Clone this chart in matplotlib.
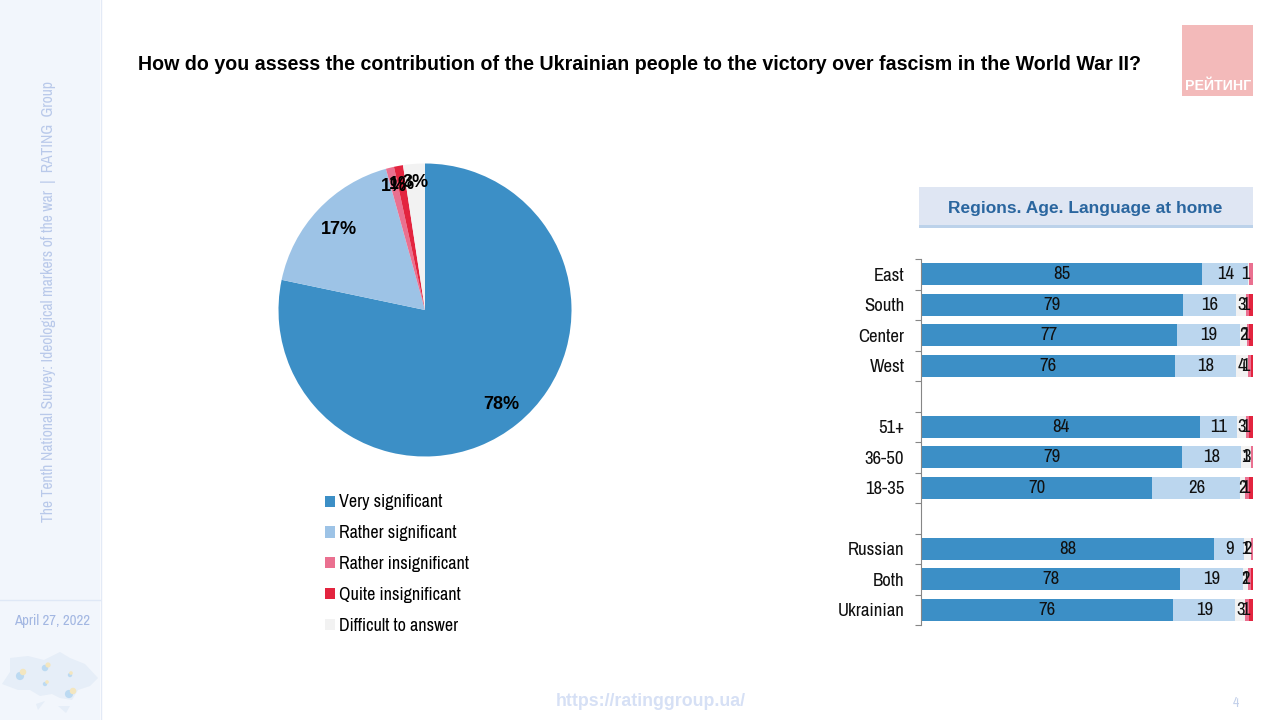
import matplotlib
matplotlib.use('Agg')
import matplotlib.pyplot as plt
from matplotlib.patches import Rectangle, Polygon

NARROW = ['Archivo Narrow', 'Liberation Sans', 'DejaVu Sans']
BOLD = ['Liberation Sans', 'DejaVu Sans']   # la narrow no trae negrita
plt.rcParams['font.family'] = NARROW

# datos del pastel
pie_labels = ['Very significant', 'Rather significant', 'Rather insignificant', 'Quite insignificant', 'Difficult to answer']
pie_values = [78.3, 17.4, 0.9, 1.0, 2.4]
pie_txt = ['78%', '17%', '1%', '1%', '3%']
pie_colors = ['#3c8fc6', '#9dc3e6', '#ea7090', '#e3243f', '#f2f2f2']

# datos de las barras, None = fila vacia
categories = ['East', 'South', 'Center', 'West', '', '51+', '36-50', '18-35', '', 'Russian', 'Both', 'Ukrainian']
very = [84.7, 79.0, 77.2, 76.6, None, 84.1, 78.7, 69.7, None, 88.4, 78.1, 76.0]
rather = [13.9, 16.0, 19.0, 18.4, None, 11.1, 17.8, 26.5, None, 9.0, 19.0, 18.7]
difficult = [0.3, 3.0, 2.1, 3.6, None, 2.7, 3.0, 1.5, None, 2.1, 1.5, 3.0]
insignificant = [1.2, 0.9, 0.6, 0.9, None, 0.9, 0.6, 1.2, None, 0.6, 0.9, 1.2]
quite = [0.0, 1.2, 1.2, 0.6, None, 1.2, 0.0, 1.2, None, 0.0, 0.6, 1.2]

very_txt = ['85', '79', '77', '76', '', '84', '79', '70', '', '88', '78', '76']
rather_txt = ['14', '16', '19', '18', '', '11', '18', '26', '', '9', '19', '19']
difficult_txt = ['', '3', '2', '4', '', '3', '3', '2', '', '2', '2', '3']
small_txt = ['1', '1', '1', '1', '', '1', '1', '1', '', '1', '1', '1']
bar_colors = ['#3c8fc6', '#bbd6ee', '#f2f2f2', '#ea7090', '#e3243f']

W, H = 1280, 720


def caja(x0, y0, x1, y1):   # convierte pixeles a fraccion de figura
    return [x0 / W, 1 - y1 / H, (x1 - x0) / W, (y1 - y0) / H]


fig = plt.figure(figsize=(12.8, 7.2), dpi=100)

# capa de fondo en pixeles
bg = fig.add_axes([0, 0, 1, 1])
bg.set_xlim(0, W)
bg.set_ylim(H, 0)
bg.axis('off')

bg.add_patch(Rectangle((0, 0), 100, H, color='#f2f6fc', lw=0))
bg.plot([100.5, 100.5], [0, H], color='#e3eaf6', lw=1)
bg.plot([0, 100], [600, 600], color='#dfe8f6', lw=1)
bg.text(49, 302, 'The Tenth National Survey: Ideological markers of the war  |  RATING  Group', rotation=90,
        ha='center', va='center', fontsize=11.25, color='#b9c9ea')
bg.text(52, 621, 'April 27, 2022', ha='center', va='center', fontsize=10.7, color='#a3b7e2')

# mapa decorativo
ucrania = [(2, 684), (10, 672), (10, 658), (28, 656), (44, 660), (60, 652), (70, 658), (85, 664), (98, 678),
           (90, 686), (78, 690), (72, 700), (60, 698), (52, 694), (40, 696), (30, 690), (18, 690)]
bg.add_patch(Polygon(ucrania, closed=True, color='#e6eef8', lw=0))
bg.add_patch(Polygon([(36, 704), (45, 701), (38, 710)], closed=True, color='#e6eef8', lw=0))
bg.add_patch(Polygon([(58, 706), (70, 706), (66, 713)], closed=True, color='#e6eef8', lw=0))
bg.scatter([20, 45, 69, 45, 70], [676, 668, 694, 684, 675], s=[35, 22, 35, 10, 10], color='#bcdaf2', lw=0)
bg.scatter([23, 48, 73, 47, 71], [672, 665, 691, 682, 673], s=[22, 14, 22, 7, 7], color='#f3e6c0', lw=0)

bg.text(138, 64, 'How do you assess the contribution of the Ukrainian people to the victory over fascism in the World War II?',
        ha='left', va='center', fontsize=14.15, fontweight='bold', color='black', family=BOLD)

# logo
bg.add_patch(Rectangle((1182, 25), 71, 71, color='#f3baba', lw=0))
bg.text(1218, 86, 'РЕЙТИНГ', ha='center', va='center', fontsize=10.2, fontweight='bold', color='white', family=BOLD)

# recuadro de subtitulo con su sombra
bg.add_patch(Rectangle((919, 190), 334, 37.5, color='#bcd2ea', lw=0))
bg.add_patch(Rectangle((919, 187), 334, 38, color='#dfe6f3', lw=0))
bg.text(1085.5, 208, 'Regions. Age. Language at home', ha='center', va='center', fontsize=12.5, fontweight='bold',
        color='#2a669f', family=BOLD)

bg.text(651, 701, 'https://ratinggroup.ua/', ha='center', va='center', fontsize=12.8, fontweight='bold', color='#d6e0f5', family=BOLD)
bg.text(1236, 703, '4', ha='center', va='center', fontsize=10, color='#c3d0ea')

# pastel
ax_pie = fig.add_axes(caja(278.5, 163.5, 571.5, 456.5))
wedges, texts, autotexts = ax_pie.pie(pie_values, colors=pie_colors, startangle=90, counterclock=False, radius=1,
                                      autopct='%d%%', pctdistance=0.83,
                                      textprops={'fontsize': 13, 'fontweight': 'bold', 'color': 'black', 'family': BOLD})
ax_pie.set_xlim(-1, 1)
ax_pie.set_ylim(-1, 1)
for t, txt in zip(autotexts, pie_txt):
    t.set_text(txt)
for t in autotexts[2:]:
    x, y = t.get_position()
    t.set_position((x * 1.05, y * 1.05))
x, y = autotexts[1].get_position()
autotexts[1].set_position((x + 0.02, y - 0.02))

fig.legend(wedges, pie_labels, loc='upper left', bbox_to_anchor=(325 / W, 1 - 494.5 / H), frameon=False,
           fontsize=13, handlelength=0.58, handleheight=0.58, handletextpad=0.22, labelspacing=0.82,
           borderpad=0, borderaxespad=0)

# barras apiladas
ax = fig.add_axes(caja(921, 259, 1253, 625))
filas = [i for i in range(len(categories)) if very[i] is not None]
izq = [0.0] * len(filas)
pos = [i + 0.5 for i in filas]
for serie, color in zip([very, rather, difficult, insignificant, quite], bar_colors):
    vals = [serie[i] for i in filas]
    ax.barh(pos, vals, left=izq, height=0.72, color=color, lw=0)
    izq = [a + b for a, b in zip(izq, vals)]

for i in filas:
    ax.text(very[i] / 2, i + 0.5, very_txt[i], ha='center', va='center', fontsize=13.5, color='#111111')
    ax.text(very[i] + rather[i] / 2, i + 0.5, rather_txt[i], ha='center', va='center', fontsize=13.5, color='#111111')
    ax.text(very[i] + rather[i] + difficult[i] / 2, i + 0.5, difficult_txt[i], ha='center', va='center', fontsize=13.5, color='#111111')
    ax.text(97.7, i + 0.5, small_txt[i], ha='center', va='center', fontsize=13.5, color='#111111')

ax.set_xlim(0, 100)
ax.set_ylim(len(categories), 0)
ax.set_xticks([])
ax.set_yticks([i + 0.5 for i in range(len(categories))])
ax.set_yticklabels(categories, fontsize=13.5, color='#111111')
ax.set_yticks(range(len(categories) + 1), minor=True)
ax.tick_params(axis='y', which='major', length=0, pad=12)
ax.tick_params(axis='y', which='minor', length=4.5, width=0.8, color='#868686')
for lado in ['top', 'right', 'bottom']:
    ax.spines[lado].set_visible(False)
ax.spines['left'].set_color('#868686')
ax.spines['left'].set_linewidth(0.8)
ax.patch.set_alpha(0)

plt.savefig('out.png', dpi=100)
